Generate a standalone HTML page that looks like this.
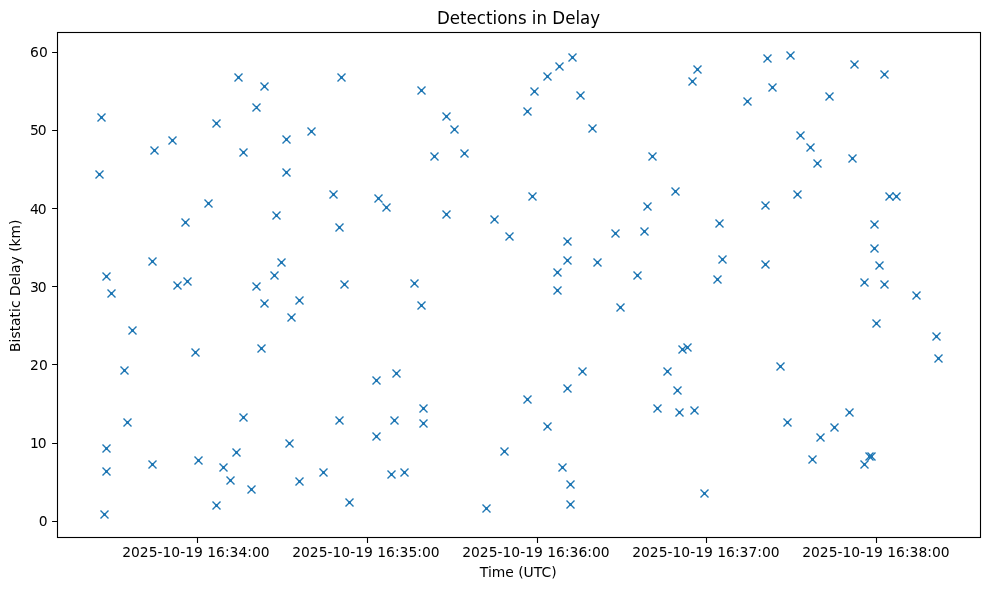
<!DOCTYPE html><html><head><meta charset="utf-8"><title>Detections in Delay</title>
<style>html,body{margin:0;padding:0;background:#fff}svg{display:block}text{font-family:"DejaVu Sans","Liberation Sans",sans-serif;fill:#000}</style></head><body>
<svg width="989" height="590" viewBox="0 0 989 590">
<rect width="989" height="590" fill="#fff"/>
<path d="M97.50 113.50L105.50 121.50M97.50 121.50L105.50 113.50M100.00 117.50h3M101.50 116.00v3M150.50 146.50L158.50 154.50M150.50 154.50L158.50 146.50M153.00 150.50h3M154.50 149.00v3M168.50 136.50L176.50 144.50M168.50 144.50L176.50 136.50M171.00 140.50h3M172.50 139.00v3M212.50 119.50L220.50 127.50M212.50 127.50L220.50 119.50M215.00 123.50h3M216.50 122.00v3M234.50 73.50L242.50 81.50M234.50 81.50L242.50 73.50M237.00 77.50h3M238.50 76.00v3M260.50 82.50L268.50 90.50M260.50 90.50L268.50 82.50M263.00 86.50h3M264.50 85.00v3M252.50 103.50L260.50 111.50M252.50 111.50L260.50 103.50M255.00 107.50h3M256.50 106.00v3M239.50 148.50L247.50 156.50M239.50 156.50L247.50 148.50M242.00 152.50h3M243.50 151.00v3M282.50 135.50L290.50 143.50M282.50 143.50L290.50 135.50M285.00 139.50h3M286.50 138.00v3M95.50 170.50L103.50 178.50M95.50 178.50L103.50 170.50M98.00 174.50h3M99.50 173.00v3M282.50 168.50L290.50 176.50M282.50 176.50L290.50 168.50M285.00 172.50h3M286.50 171.00v3M307.50 127.50L315.50 135.50M307.50 135.50L315.50 127.50M310.00 131.50h3M311.50 130.00v3M337.50 73.50L345.50 81.50M337.50 81.50L345.50 73.50M340.00 77.50h3M341.50 76.00v3M417.50 86.50L425.50 94.50M417.50 94.50L425.50 86.50M420.00 90.50h3M421.50 89.00v3M442.50 112.50L450.50 120.50M442.50 120.50L450.50 112.50M445.00 116.50h3M446.50 115.00v3M450.50 125.50L458.50 133.50M450.50 133.50L458.50 125.50M453.00 129.50h3M454.50 128.00v3M430.50 152.50L438.50 160.50M430.50 160.50L438.50 152.50M433.00 156.50h3M434.50 155.00v3M460.50 149.50L468.50 157.50M460.50 157.50L468.50 149.50M463.00 153.50h3M464.50 152.00v3M523.50 107.50L531.50 115.50M523.50 115.50L531.50 107.50M526.00 111.50h3M527.50 110.00v3M530.50 87.50L538.50 95.50M530.50 95.50L538.50 87.50M533.00 91.50h3M534.50 90.00v3M543.50 72.50L551.50 80.50M543.50 80.50L551.50 72.50M546.00 76.50h3M547.50 75.00v3M555.50 62.50L563.50 70.50M555.50 70.50L563.50 62.50M558.00 66.50h3M559.50 65.00v3M568.50 53.50L576.50 61.50M568.50 61.50L576.50 53.50M571.00 57.50h3M572.50 56.00v3M576.50 91.50L584.50 99.50M576.50 99.50L584.50 91.50M579.00 95.50h3M580.50 94.00v3M588.50 124.50L596.50 132.50M588.50 132.50L596.50 124.50M591.00 128.50h3M592.50 127.00v3M648.50 152.50L656.50 160.50M648.50 160.50L656.50 152.50M651.00 156.50h3M652.50 155.00v3M688.50 77.50L696.50 85.50M688.50 85.50L696.50 77.50M691.00 81.50h3M692.50 80.00v3M693.50 65.50L701.50 73.50M693.50 73.50L701.50 65.50M696.00 69.50h3M697.50 68.00v3M743.50 97.50L751.50 105.50M743.50 105.50L751.50 97.50M746.00 101.50h3M747.50 100.00v3M763.50 54.50L771.50 62.50M763.50 62.50L771.50 54.50M766.00 58.50h3M767.50 57.00v3M768.50 83.50L776.50 91.50M768.50 91.50L776.50 83.50M771.00 87.50h3M772.50 86.00v3M786.50 51.50L794.50 59.50M786.50 59.50L794.50 51.50M789.00 55.50h3M790.50 54.00v3M850.50 60.50L858.50 68.50M850.50 68.50L858.50 60.50M853.00 64.50h3M854.50 63.00v3M880.50 70.50L888.50 78.50M880.50 78.50L888.50 70.50M883.00 74.50h3M884.50 73.00v3M825.50 92.50L833.50 100.50M825.50 100.50L833.50 92.50M828.00 96.50h3M829.50 95.00v3M796.50 131.50L804.50 139.50M796.50 139.50L804.50 131.50M799.00 135.50h3M800.50 134.00v3M806.50 143.50L814.50 151.50M806.50 151.50L814.50 143.50M809.00 147.50h3M810.50 146.00v3M813.50 159.50L821.50 167.50M813.50 167.50L821.50 159.50M816.00 163.50h3M817.50 162.00v3M848.50 154.50L856.50 162.50M848.50 162.50L856.50 154.50M851.00 158.50h3M852.50 157.00v3M204.50 199.50L212.50 207.50M204.50 207.50L212.50 199.50M207.00 203.50h3M208.50 202.00v3M181.50 218.50L189.50 226.50M181.50 226.50L189.50 218.50M184.00 222.50h3M185.50 221.00v3M272.50 211.50L280.50 219.50M272.50 219.50L280.50 211.50M275.00 215.50h3M276.50 214.00v3M148.50 257.50L156.50 265.50M148.50 265.50L156.50 257.50M151.00 261.50h3M152.50 260.00v3M102.50 272.50L110.50 280.50M102.50 280.50L110.50 272.50M105.00 276.50h3M106.50 275.00v3M107.50 289.50L115.50 297.50M107.50 297.50L115.50 289.50M110.00 293.50h3M111.50 292.00v3M173.50 281.50L181.50 289.50M173.50 289.50L181.50 281.50M176.00 285.50h3M177.50 284.00v3M183.50 277.50L191.50 285.50M183.50 285.50L191.50 277.50M186.00 281.50h3M187.50 280.00v3M252.50 282.50L260.50 290.50M252.50 290.50L260.50 282.50M255.00 286.50h3M256.50 285.00v3M270.50 271.50L278.50 279.50M270.50 279.50L278.50 271.50M273.00 275.50h3M274.50 274.00v3M277.50 258.50L285.50 266.50M277.50 266.50L285.50 258.50M280.00 262.50h3M281.50 261.00v3M260.50 299.50L268.50 307.50M260.50 307.50L268.50 299.50M263.00 303.50h3M264.50 302.00v3M295.50 296.50L303.50 304.50M295.50 304.50L303.50 296.50M298.00 300.50h3M299.50 299.00v3M329.50 190.50L337.50 198.50M329.50 198.50L337.50 190.50M332.00 194.50h3M333.50 193.00v3M374.50 194.50L382.50 202.50M374.50 202.50L382.50 194.50M377.00 198.50h3M378.50 197.00v3M382.50 203.50L390.50 211.50M382.50 211.50L390.50 203.50M385.00 207.50h3M386.50 206.00v3M335.50 223.50L343.50 231.50M335.50 231.50L343.50 223.50M338.00 227.50h3M339.50 226.00v3M442.50 210.50L450.50 218.50M442.50 218.50L450.50 210.50M445.00 214.50h3M446.50 213.00v3M490.50 215.50L498.50 223.50M490.50 223.50L498.50 215.50M493.00 219.50h3M494.50 218.00v3M505.50 232.50L513.50 240.50M505.50 240.50L513.50 232.50M508.00 236.50h3M509.50 235.00v3M528.50 192.50L536.50 200.50M528.50 200.50L536.50 192.50M531.00 196.50h3M532.50 195.00v3M340.50 280.50L348.50 288.50M340.50 288.50L348.50 280.50M343.00 284.50h3M344.50 283.00v3M410.50 279.50L418.50 287.50M410.50 287.50L418.50 279.50M413.00 283.50h3M414.50 282.00v3M417.50 301.50L425.50 309.50M417.50 309.50L425.50 301.50M420.00 305.50h3M421.50 304.00v3M671.50 187.50L679.50 195.50M671.50 195.50L679.50 187.50M674.00 191.50h3M675.50 190.00v3M643.50 202.50L651.50 210.50M643.50 210.50L651.50 202.50M646.00 206.50h3M647.50 205.00v3M761.50 201.50L769.50 209.50M761.50 209.50L769.50 201.50M764.00 205.50h3M765.50 204.00v3M715.50 219.50L723.50 227.50M715.50 227.50L723.50 219.50M718.00 223.50h3M719.50 222.00v3M563.50 237.50L571.50 245.50M563.50 245.50L571.50 237.50M566.00 241.50h3M567.50 240.00v3M611.50 229.50L619.50 237.50M611.50 237.50L619.50 229.50M614.00 233.50h3M615.50 232.00v3M640.50 227.50L648.50 235.50M640.50 235.50L648.50 227.50M643.00 231.50h3M644.50 230.00v3M563.50 256.50L571.50 264.50M563.50 264.50L571.50 256.50M566.00 260.50h3M567.50 259.00v3M593.50 258.50L601.50 266.50M593.50 266.50L601.50 258.50M596.00 262.50h3M597.50 261.00v3M553.50 268.50L561.50 276.50M553.50 276.50L561.50 268.50M556.00 272.50h3M557.50 271.00v3M553.50 286.50L561.50 294.50M553.50 294.50L561.50 286.50M556.00 290.50h3M557.50 289.00v3M633.50 271.50L641.50 279.50M633.50 279.50L641.50 271.50M636.00 275.50h3M637.50 274.00v3M616.50 303.50L624.50 311.50M616.50 311.50L624.50 303.50M619.00 307.50h3M620.50 306.00v3M718.50 255.50L726.50 263.50M718.50 263.50L726.50 255.50M721.00 259.50h3M722.50 258.00v3M713.50 275.50L721.50 283.50M713.50 283.50L721.50 275.50M716.00 279.50h3M717.50 278.00v3M761.50 260.50L769.50 268.50M761.50 268.50L769.50 260.50M764.00 264.50h3M765.50 263.00v3M793.50 190.50L801.50 198.50M793.50 198.50L801.50 190.50M796.00 194.50h3M797.50 193.00v3M885.50 192.50L893.50 200.50M885.50 200.50L893.50 192.50M888.00 196.50h3M889.50 195.00v3M870.50 220.50L878.50 228.50M870.50 228.50L878.50 220.50M873.00 224.50h3M874.50 223.00v3M870.50 244.50L878.50 252.50M870.50 252.50L878.50 244.50M873.00 248.50h3M874.50 247.00v3M875.50 261.50L883.50 269.50M875.50 269.50L883.50 261.50M878.00 265.50h3M879.50 264.00v3M860.50 278.50L868.50 286.50M860.50 286.50L868.50 278.50M863.00 282.50h3M864.50 281.00v3M880.50 280.50L888.50 288.50M880.50 288.50L888.50 280.50M883.00 284.50h3M884.50 283.00v3M912.50 291.50L920.50 299.50M912.50 299.50L920.50 291.50M915.00 295.50h3M916.50 294.00v3M287.50 313.50L295.50 321.50M287.50 321.50L295.50 313.50M290.00 317.50h3M291.50 316.00v3M128.50 326.50L136.50 334.50M128.50 334.50L136.50 326.50M131.00 330.50h3M132.50 329.00v3M191.50 348.50L199.50 356.50M191.50 356.50L199.50 348.50M194.00 352.50h3M195.50 351.00v3M257.50 344.50L265.50 352.50M257.50 352.50L265.50 344.50M260.00 348.50h3M261.50 347.00v3M120.50 366.50L128.50 374.50M120.50 374.50L128.50 366.50M123.00 370.50h3M124.50 369.00v3M123.50 418.50L131.50 426.50M123.50 426.50L131.50 418.50M126.00 422.50h3M127.50 421.00v3M239.50 413.50L247.50 421.50M239.50 421.50L247.50 413.50M242.00 417.50h3M243.50 416.00v3M102.50 444.50L110.50 452.50M102.50 452.50L110.50 444.50M105.00 448.50h3M106.50 447.00v3M232.50 448.50L240.50 456.50M232.50 456.50L240.50 448.50M235.00 452.50h3M236.50 451.00v3M285.50 439.50L293.50 447.50M285.50 447.50L293.50 439.50M288.00 443.50h3M289.50 442.00v3M372.50 376.50L380.50 384.50M372.50 384.50L380.50 376.50M375.00 380.50h3M376.50 379.00v3M392.50 369.50L400.50 377.50M392.50 377.50L400.50 369.50M395.00 373.50h3M396.50 372.00v3M523.50 395.50L531.50 403.50M523.50 403.50L531.50 395.50M526.00 399.50h3M527.50 398.00v3M419.50 404.50L427.50 412.50M419.50 412.50L427.50 404.50M422.00 408.50h3M423.50 407.00v3M419.50 419.50L427.50 427.50M419.50 427.50L427.50 419.50M422.00 423.50h3M423.50 422.00v3M390.50 416.50L398.50 424.50M390.50 424.50L398.50 416.50M393.00 420.50h3M394.50 419.00v3M335.50 416.50L343.50 424.50M335.50 424.50L343.50 416.50M338.00 420.50h3M339.50 419.00v3M372.50 432.50L380.50 440.50M372.50 440.50L380.50 432.50M375.00 436.50h3M376.50 435.00v3M500.50 447.50L508.50 455.50M500.50 455.50L508.50 447.50M503.00 451.50h3M504.50 450.00v3M678.50 345.50L686.50 353.50M678.50 353.50L686.50 345.50M681.00 349.50h3M682.50 348.00v3M578.50 367.50L586.50 375.50M578.50 375.50L586.50 367.50M581.00 371.50h3M582.50 370.00v3M563.50 384.50L571.50 392.50M563.50 392.50L571.50 384.50M566.00 388.50h3M567.50 387.00v3M663.50 367.50L671.50 375.50M663.50 375.50L671.50 367.50M666.00 371.50h3M667.50 370.00v3M673.50 386.50L681.50 394.50M673.50 394.50L681.50 386.50M676.00 390.50h3M677.50 389.00v3M653.50 404.50L661.50 412.50M653.50 412.50L661.50 404.50M656.00 408.50h3M657.50 407.00v3M675.50 408.50L683.50 416.50M675.50 416.50L683.50 408.50M678.00 412.50h3M679.50 411.00v3M690.50 406.50L698.50 414.50M690.50 414.50L698.50 406.50M693.00 410.50h3M694.50 409.00v3M543.50 422.50L551.50 430.50M543.50 430.50L551.50 422.50M546.00 426.50h3M547.50 425.00v3M776.50 362.50L784.50 370.50M776.50 370.50L784.50 362.50M779.00 366.50h3M780.50 365.00v3M872.50 319.50L880.50 327.50M872.50 327.50L880.50 319.50M875.00 323.50h3M876.50 322.00v3M932.50 332.50L940.50 340.50M932.50 340.50L940.50 332.50M935.00 336.50h3M936.50 335.00v3M934.50 354.50L942.50 362.50M934.50 362.50L942.50 354.50M937.00 358.50h3M938.50 357.00v3M783.50 418.50L791.50 426.50M783.50 426.50L791.50 418.50M786.00 422.50h3M787.50 421.00v3M845.50 408.50L853.50 416.50M845.50 416.50L853.50 408.50M848.00 412.50h3M849.50 411.00v3M830.50 423.50L838.50 431.50M830.50 431.50L838.50 423.50M833.00 427.50h3M834.50 426.00v3M816.50 433.50L824.50 441.50M816.50 441.50L824.50 433.50M819.00 437.50h3M820.50 436.00v3M102.50 467.50L110.50 475.50M102.50 475.50L110.50 467.50M105.00 471.50h3M106.50 470.00v3M100.50 510.50L108.50 518.50M100.50 518.50L108.50 510.50M103.00 514.50h3M104.50 513.00v3M148.50 460.50L156.50 468.50M148.50 468.50L156.50 460.50M151.00 464.50h3M152.50 463.00v3M194.50 456.50L202.50 464.50M194.50 464.50L202.50 456.50M197.00 460.50h3M198.50 459.00v3M219.50 463.50L227.50 471.50M219.50 471.50L227.50 463.50M222.00 467.50h3M223.50 466.00v3M226.50 476.50L234.50 484.50M226.50 484.50L234.50 476.50M229.00 480.50h3M230.50 479.00v3M247.50 485.50L255.50 493.50M247.50 493.50L255.50 485.50M250.00 489.50h3M251.50 488.00v3M212.50 501.50L220.50 509.50M212.50 509.50L220.50 501.50M215.00 505.50h3M216.50 504.00v3M295.50 477.50L303.50 485.50M295.50 485.50L303.50 477.50M298.00 481.50h3M299.50 480.00v3M319.50 468.50L327.50 476.50M319.50 476.50L327.50 468.50M322.00 472.50h3M323.50 471.00v3M345.50 498.50L353.50 506.50M345.50 506.50L353.50 498.50M348.00 502.50h3M349.50 501.00v3M387.50 470.50L395.50 478.50M387.50 478.50L395.50 470.50M390.00 474.50h3M391.50 473.00v3M400.50 468.50L408.50 476.50M400.50 476.50L408.50 468.50M403.00 472.50h3M404.50 471.00v3M482.50 504.50L490.50 512.50M482.50 512.50L490.50 504.50M485.00 508.50h3M486.50 507.00v3M558.50 463.50L566.50 471.50M558.50 471.50L566.50 463.50M561.00 467.50h3M562.50 466.00v3M566.50 480.50L574.50 488.50M566.50 488.50L574.50 480.50M569.00 484.50h3M570.50 483.00v3M566.50 500.50L574.50 508.50M566.50 508.50L574.50 500.50M569.00 504.50h3M570.50 503.00v3M700.50 489.50L708.50 497.50M700.50 497.50L708.50 489.50M703.00 493.50h3M704.50 492.00v3M808.50 455.50L816.50 463.50M808.50 463.50L816.50 455.50M811.00 459.50h3M812.50 458.00v3M860.50 460.50L868.50 468.50M860.50 468.50L868.50 460.50M863.00 464.50h3M864.50 463.00v3" stroke="#1f77b4" stroke-width="1.39" fill="none"/>
<path d="M892.50 192.50L900.50 200.50M892.50 200.50L900.50 192.50M895.00 196.50h3M896.50 195.00v3M683.50 343.50L691.50 351.50M683.50 351.50L691.50 343.50M686.00 347.50h3M687.50 346.00v3M865.50 452.50L873.50 460.50M865.50 460.50L873.50 452.50M868.00 456.50h3M869.50 455.00v3" stroke="#1f77b4" stroke-width="1.39" fill="none"/>
<path d="M867.50 452.50L875.50 460.50M867.50 460.50L875.50 452.50M870.00 456.50h3M871.50 455.00v3" stroke="#1f77b4" stroke-width="1.39" fill="none"/>
<path d="M57.50 52.50h-5.4M57.50 130.50h-5.4M57.50 208.50h-5.4M57.50 286.50h-5.4M57.50 364.50h-5.4M57.50 443.50h-5.4M57.50 521.50h-5.4M197.50 537.50v5.4M367.50 537.50v5.4M537.50 537.50v5.4M706.50 537.50v5.4M876.50 537.50v5.4" stroke="#000" stroke-width="1.11" fill="none"/>
<rect x="57.5" y="32.5" width="923.00" height="505.00" fill="none" stroke="#000" stroke-width="1.11"/>
<text x="30.05 38.88" y="57" font-size="13.89">60</text>
<text x="30.05 37.8" y="135" font-size="13.89">50</text>
<text x="30.05 37.8" y="214" font-size="13.89">40</text>
<text x="30.05 37.8" y="292" font-size="13.89">30</text>
<text x="30.05 38.88" y="370" font-size="13.89">20</text>
<text x="30.05 37.8" y="448" font-size="13.89">10</text>
<text x="38.85" y="526" font-size="13.89">0</text>
<text x="195.90" y="557" font-size="13.89" text-anchor="middle">2025-10-19 16:34:00</text>
<text x="365.90" y="557" font-size="13.89" text-anchor="middle">2025-10-19 16:35:00</text>
<text x="535.90" y="557" font-size="13.89" text-anchor="middle">2025-10-19 16:36:00</text>
<text x="705.90" y="557" font-size="13.89" text-anchor="middle">2025-10-19 16:37:00</text>
<text x="875.90" y="557" font-size="13.89" text-anchor="middle">2025-10-19 16:38:00</text>
<text x="518.20" y="577" font-size="13.89" text-anchor="middle">Time (UTC)</text>
<text transform="translate(518.55 24) scale(1 1.075)" font-size="16.67" text-anchor="middle">Detections in Delay</text>
<text transform="translate(19.9 285.70) rotate(-90)" font-size="13.89" text-anchor="middle">Bistatic Delay (km)</text>
</svg></body></html>
